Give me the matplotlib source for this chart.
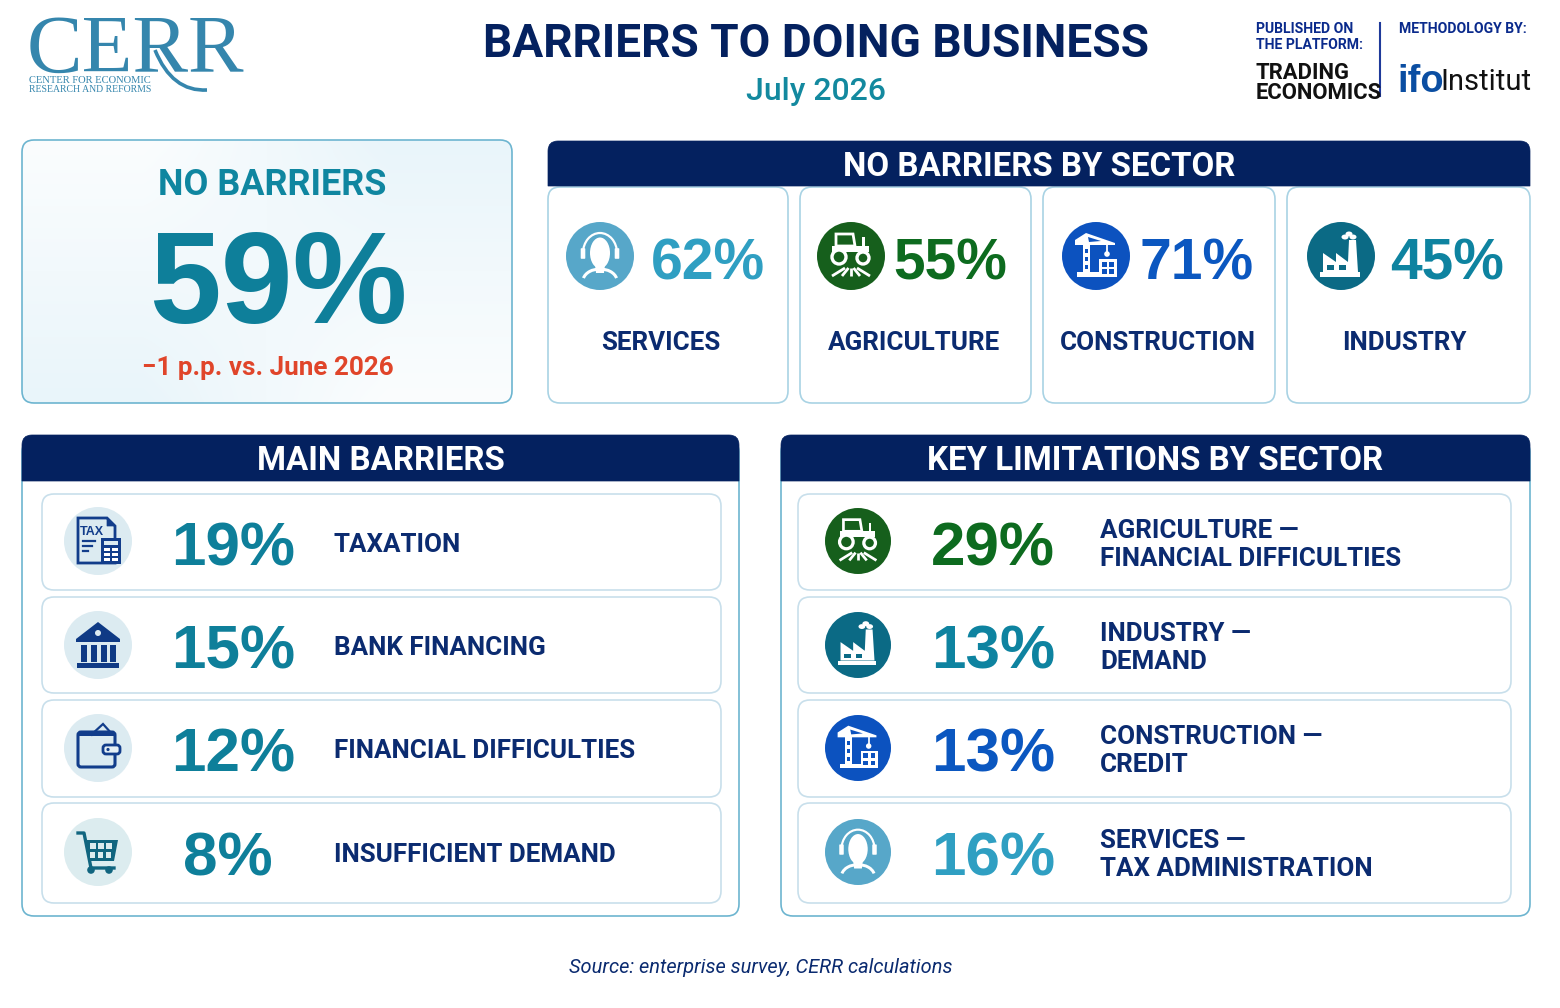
import numpy as np
import matplotlib
matplotlib.use("Agg")
import matplotlib.pyplot as plt
from matplotlib.patches import Circle, Rectangle, Polygon, Arc, Ellipse, FancyBboxPatch, PathPatch
from matplotlib.path import Path

# === Data ===
title = "BARRIERS TO DOING BUSINESS"
period = "July 2026"
headline_value = 59
headline_change = "\u22121 p.p. vs. June 2026"

sector_names = ["SERVICES", "AGRICULTURE", "CONSTRUCTION", "INDUSTRY"]
sector_values = [62, 55, 71, 45]

barrier_names = ["TAXATION", "BANK FINANCING", "FINANCIAL DIFFICULTIES", "INSUFFICIENT DEMAND"]
barrier_values = [19, 15, 12, 8]

limit_names = ["AGRICULTURE \u2014\nFINANCIAL DIFFICULTIES", "INDUSTRY \u2014\nDEMAND",
               "CONSTRUCTION \u2014\nCREDIT", "SERVICES \u2014\nTAX ADMINISTRATION"]
limit_values = [29, 13, 13, 16]

source_note = "Source: enterprise survey, CERR calculations"

# === Styles ===
NAVY = "#04215f"
LABEL = "#0b2b70"
TEAL = "#0e7f9a"
BORDER = "#a9d3e4"
ROW_BORDER = "#c8dfeb"
ICON_BG = "#dcebf1"
SECTOR_ICON = {"SERVICES": "#57a7c9", "AGRICULTURE": "#165f1c", "CONSTRUCTION": "#0c52bf", "INDUSTRY": "#0b6a85"}
SECTOR_TEXT = {"SERVICES": "#2f9fc2", "AGRICULTURE": "#0d6b1f", "CONSTRUCTION": "#0b57c0", "INDUSTRY": "#0e83a0"}

NARROW = ["Liberation Sans Narrow", "Roboto", "DejaVu Sans"]
ARIAL = ["Liberation Sans", "DejaVu Sans"]

W, H = 1560, 1008
fig = plt.figure(figsize=(W / 100, H / 100), dpi=100)
ax = fig.add_axes([0, 0, 1, 1])
ax.set_xlim(0, W)
ax.set_ylim(H, 0)
ax.axis("off")


def label(x, yc, s, px, color=LABEL, ha="center", family=NARROW, weight="bold", style="normal", z=5):
    # yc = middle of the capitals, px = font size in pixels
    ax.text(x, yc + 0.36 * px, s, fontsize=px * 0.72, color=color, ha=ha, va="baseline",
            family=family, weight=weight, style=style, zorder=z)


def card(x0, y0, x1, y1, edge=BORDER, face="white", r=12, lw=1.2, z=1):
    p = FancyBboxPatch((x0 + r, y0 + r), x1 - x0 - 2 * r, y1 - y0 - 2 * r,
                       boxstyle=f"round,pad={r},rounding_size={r}", ec=edge, fc=face, lw=lw, zorder=z)
    ax.add_patch(p)
    return p


def header(x0, y0, x1, y1, s, r=10):
    # navy bar, rounded on top only
    v = [(x0, y1), (x0, y0 + r), (x0, y0), (x0 + r, y0), (x1 - r, y0), (x1, y0), (x1, y0 + r), (x1, y1), (x0, y1)]
    c = [Path.MOVETO, Path.LINETO, Path.CURVE3, Path.CURVE3, Path.LINETO, Path.CURVE3, Path.CURVE3, Path.LINETO, Path.CLOSEPOLY]
    ax.add_patch(PathPatch(Path(v, c), fc=NAVY, ec=NAVY, lw=0.5, zorder=3))
    label((x0 + x1) / 2, (y0 + y1) / 2 + 0.5, s, 33, color="white")


# === Icons (local pixels, radius 34 circle) ===
def place(cx, cy, s):
    return lambda x, y: (cx + x * s, cy + y * s)


def icon_person(cx, cy, r, bg):
    s = r / 34
    P = place(cx, cy, s)
    ax.add_patch(Circle((cx, cy), r, fc=bg, ec="none", zorder=3))
    ax.add_patch(Arc(P(0, -3), 34 * s, 40 * s, theta1=180, theta2=360, color="white", lw=1.6 * s, zorder=4))
    for sx in (-1, 1):
        ax.add_patch(FancyBboxPatch(P(sx * 17 - 1.5, -7), 3 * s, 9 * s, boxstyle="round,pad=0.8",
                                    fc="white", ec="none", zorder=4))
    ax.add_patch(Ellipse(P(0, -3), 20 * s, 31 * s, fc="white", ec="none", zorder=4))
    ax.add_patch(Polygon([P(-5, 8), P(5, 8), P(4, 17), P(-4, 17)], fc="white", ec="none", zorder=4))
    ax.add_patch(Arc(P(0, 25), 34 * s, 24 * s, theta1=190, theta2=350, color="white", lw=2.2 * s, zorder=4))


def icon_tractor(cx, cy, r, bg):
    s = r / 34
    P = place(cx, cy, s)
    ax.add_patch(Circle((cx, cy), r, fc=bg, ec="none", zorder=3))
    ax.add_patch(Polygon([P(-15, -22), P(2, -22), P(4, -10), P(-15, -10)], fc="none", ec="white", lw=2 * s, zorder=4))
    ax.add_patch(Rectangle(P(-19, -10), 37 * s, 6 * s, fc="white", ec="none", zorder=4))
    ax.add_patch(Rectangle(P(11, -19), 2.5 * s, 10 * s, fc="white", ec="none", zorder=4))
    for x, y, rad in [(-12, 1, 7), (12, 2, 6)]:
        ax.add_patch(Circle(P(x, y), rad * s, fc=bg, ec="white", lw=2.4 * s, zorder=5))
    for top, bot in [(-6, -19), (-2.5, -9), (0, 0), (2.5, 9), (6, 19)]:
        x0, y0 = P(top, 12)
        x1, y1 = P(bot, 20)
        ax.plot([x0, x1], [y0, y1], color="white", lw=2 * s, zorder=4, solid_capstyle="butt")


def icon_crane(cx, cy, r, bg):
    s = r / 34
    P = place(cx, cy, s)
    ax.add_patch(Circle((cx, cy), r, fc=bg, ec="none", zorder=3))
    ax.add_patch(Polygon([P(-21, -16), P(-10, -23), P(19, -13), P(19, -11), P(-21, -11)], fc="white", ec="none", zorder=4))
    ax.add_patch(Polygon([P(-8, -19), P(5, -15), P(-7, -14)], fc=bg, ec="none", zorder=5))
    ax.add_patch(Rectangle(P(-13, -12), 7 * s, 29 * s, fc="white", ec="none", zorder=4))
    for y in (-7, 1, 9):
        ax.add_patch(Rectangle(P(-11, y), 3 * s, 4 * s, fc=bg, ec="none", zorder=5))
    ax.add_patch(Rectangle(P(-19, 16), 23 * s, 5 * s, fc="white", ec="none", zorder=4))
    x, y = P(11, -12)
    ax.plot([x, x], [y, y + 8 * s], color="white", lw=1.3 * s, zorder=4)
    ax.add_patch(Circle(P(11, -2), 2.8 * s, fc="white", ec="none", zorder=4))
    ax.add_patch(Rectangle(P(3, 3), 18 * s, 18 * s, fc="white", ec="none", zorder=4))
    for wx in (5.5, 13):
        for wy in (5.5, 13):
            ax.add_patch(Rectangle(P(wx, wy), 5 * s, 5 * s, fc=bg, ec="none", zorder=5))


def icon_factory(cx, cy, r, bg):
    s = r / 34
    P = place(cx, cy, s)
    ax.add_patch(Circle((cx, cy), r, fc=bg, ec="none", zorder=3))
    ax.add_patch(Polygon([P(-18, 16), P(-18, -3), P(-5, 6), P(-5, -3), P(7, 6), P(8, -16), P(15, -16), P(17, 16)],
                         fc="white", ec="none", zorder=4))
    ax.add_patch(Rectangle(P(-21, 16), 40 * s, 5 * s, fc="white", ec="none", zorder=4))
    for wx in (-14, -2):
        ax.add_patch(Rectangle(P(wx, 9), 6.5 * s, 4.5 * s, fc=bg, ec="none", zorder=5))
    for x, y, w in [(4, -19, 7), (8, -22, 7), (12, -19, 7)]:
        ax.add_patch(Ellipse(P(x, y), w * s, 5 * s, fc="white", ec="none", zorder=4))


def icon_tax(cx, cy, r):
    s = r / 34
    P = place(cx, cy, s)
    col = "#123d8b"
    ax.add_patch(Circle((cx, cy), r, fc=ICON_BG, ec="none", zorder=3))
    ax.add_patch(Polygon([P(-20, -23), P(9, -23), P(17, -15), P(17, 22), P(-20, 22)], fc="none", ec=col, lw=2 * s, zorder=4))
    ax.add_patch(Polygon([P(9, -23), P(17, -15), P(9, -15)], fc=col, ec=col, lw=0.5, zorder=4))
    x, y = P(-6, -9)
    ax.text(x, y, "TAX", fontsize=9 * s, color=col, family=ARIAL, weight="bold", ha="center", va="center", zorder=5)
    for yy, ln in [(0, 12), (5, 9), (10, 5)]:
        x0, y0 = P(-15, yy)
        ax.plot([x0, x0 + ln * s], [y0, y0], color=col, lw=1.6 * s, zorder=4)
    ax.add_patch(Rectangle(P(3, -3), 20 * s, 26 * s, fc=col, ec="none", zorder=5))
    ax.add_patch(Rectangle(P(6, 0), 14 * s, 4 * s, fc=ICON_BG, ec="none", zorder=6))
    for yy in (7, 12, 17):
        for xx in (6, 14):
            ax.add_patch(Rectangle(P(xx, yy), 6 * s, 2.6 * s, fc="white", ec="none", zorder=6))


def icon_bank(cx, cy, r):
    s = r / 34
    P = place(cx, cy, s)
    col = "#0f3a85"
    ax.add_patch(Circle((cx, cy), r, fc=ICON_BG, ec="none", zorder=3))
    ax.add_patch(Polygon([P(0, -23), P(22, -6), P(22, -3), P(-22, -3), P(-22, -6)], fc=col, ec="none", zorder=4))
    ax.add_patch(Circle(P(0, -12), 3 * s, fc=ICON_BG, ec="none", zorder=5))
    for x in (-17, -7.5, 2.5, 12):
        ax.add_patch(Rectangle(P(x, 0), 6 * s, 17 * s, fc=col, ec="none", zorder=4))
    ax.add_patch(Rectangle(P(-21, 18), 42 * s, 4.5 * s, fc=col, ec="none", zorder=4))


def icon_wallet(cx, cy, r):
    s = r / 34
    P = place(cx, cy, s)
    col = "#123d8b"
    ax.add_patch(Circle((cx, cy), r, fc=ICON_BG, ec="none", zorder=3))
    ax.add_patch(Polygon([P(-7, -13), P(5, -24), P(14, -14)], fc=ICON_BG, ec=col, lw=1.6 * s, zorder=4))
    x, y = P(-20, -16)
    ax.add_patch(FancyBboxPatch((x, y), 37 * s, 35 * s, boxstyle=f"round,pad=0,rounding_size={3 * s}",
                                fc="none", ec=col, lw=2.2 * s, zorder=4))
    ax.add_patch(Rectangle(P(-20, -16), 37 * s, 4 * s, fc=col, ec="none", zorder=4))
    x, y = P(5, -3)
    ax.add_patch(FancyBboxPatch((x, y), 17 * s, 9 * s, boxstyle=f"round,pad=0,rounding_size={3 * s}",
                                fc="#e6f0f5", ec=col, lw=2 * s, zorder=5))
    ax.add_patch(Circle(P(10, 1.5), 1.6 * s, fc=col, ec="none", zorder=6))


def icon_cart(cx, cy, r):
    s = r / 34
    P = place(cx, cy, s)
    col = "#11657f"
    ax.add_patch(Circle((cx, cy), r, fc="#dcecef", ec="none", zorder=3))
    xy = np.array([P(-20, -19), P(-14, -19), P(-7, 16), P(16, 16)])
    ax.plot(xy[:, 0], xy[:, 1], color=col, lw=2.4 * s, zorder=4, solid_joinstyle="round")
    ax.add_patch(Polygon([P(-13, -12), P(20, -12), P(16, 9), P(-9, 9)], fc=col, ec="none", zorder=4))
    for row, yy in enumerate((-9, 0)):
        for xx in (-8, 0, 8):
            ax.add_patch(Rectangle(P(xx - row * 0.5, yy), 5.5 * s, 6 * s, fc="#dcecef", ec="none", zorder=5))
    for x in (-7, 11):
        ax.add_patch(Circle(P(x, 18), 3.8 * s, fc=col, ec="none", zorder=4))


SECTOR_DRAW = {"SERVICES": icon_person, "AGRICULTURE": icon_tractor, "CONSTRUCTION": icon_crane, "INDUSTRY": icon_factory}
BARRIER_DRAW = [icon_tax, icon_bank, icon_wallet, icon_cart]

# === Top band ===
LOGO = "#3586ad"
ax.text(27, 72, "CERR", fontsize=60, family="Liberation Serif", color=LOGO, ha="left", va="baseline", zorder=5)
ax.add_patch(PathPatch(Path([(155, 50), (172, 92), (207, 90)], [Path.MOVETO, Path.CURVE3, Path.CURVE3]),
                       fc="none", ec=LOGO, lw=2.6, zorder=5))
ax.text(29, 83, "CENTER FOR ECONOMIC", fontsize=7.6, family="Liberation Serif", color=LOGO, va="baseline", zorder=6)
ax.text(29, 92, "RESEARCH AND REFORMS", fontsize=7.0, family="Liberation Serif", color=LOGO, va="baseline", zorder=6)

label(816, 40, title, 46, color=NAVY)
label(816, 88, period, 32, color="#13899f", family=["Roboto", "DejaVu Sans"], weight="medium")

PUB = "#0a2a8c"
label(1256, 28, "PUBLISHED ON", 14, color=PUB, ha="left")
label(1256, 44, "THE PLATFORM:", 14, color=PUB, ha="left")
label(1256, 71, "TRADING", 22, color="#111111", ha="left")
label(1256, 91, "ECONOMICS", 22, color="#111111", ha="left")
ax.plot([1380, 1380], [23, 96], color="#1f3a9a", lw=1.5, zorder=4)
label(1399, 28, "METHODOLOGY BY:", 14, color=PUB, ha="left")
label(1397, 78, "ifo", 38, color="#0b4ea2", ha="left", family=ARIAL)
label(1440, 80, "Institut", 29, color="#111111", ha="left", weight="normal", family=NARROW)

# === No barriers panel ===
p = card(22, 140, 512, 403, edge="#6db5d0", face="none", z=2)
grad = np.linspace(0, 1, 256).reshape(-1, 1)
grad = np.hstack([grad, grad[::-1]])
im = ax.imshow(grad, extent=(22, 512, 403, 140), cmap=matplotlib.colors.LinearSegmentedColormap.from_list("p", ["#fbfdfe", "#e9f5fa"]),
               aspect="auto", interpolation="bilinear", zorder=1)
im.set_clip_path(p)
ax.set_xlim(0, W)
ax.set_ylim(H, 0)
label(272, 182, "NO BARRIERS", 36, color="#0f86a0")
label(278, 277, f"{headline_value}%", 129, color=TEAL, family=ARIAL)
label(268, 366, headline_change, 26, color="#e0452a", family=["Roboto", "DejaVu Sans"])

# === No barriers by sector ===
header(548, 141, 1530, 186, "NO BARRIERS BY SECTOR")
card_x = [(548, 788), (800, 1031), (1043, 1275), (1287, 1530)]
icon_x = [600, 851, 1096, 1341]
pct_x = [708, 950, 1197, 1447]
name_x = [661, 914, 1158, 1404]
for i, name in enumerate(sector_names):
    card(card_x[i][0], 187, card_x[i][1], 403)
    SECTOR_DRAW[name](icon_x[i], 256, 34, SECTOR_ICON[name])
    label(pct_x[i], 259, f"{sector_values[i]}%", 57, color=SECTOR_TEXT[name], family=ARIAL)
    label(name_x[i], 341, name, 26)

# === Main barriers ===
card(22, 440, 739, 916, edge="#6db5d0", z=1)
header(22, 435, 739, 481, "MAIN BARRIERS")
row_top = [494, 597, 700, 803]
row_bot = [590, 693, 797, 903]
row_yc = [543, 646, 749, 853]
icon_yc = [541, 645, 748, 852]
for i, name in enumerate(barrier_names):
    card(42, row_top[i], 721, row_bot[i], edge=ROW_BORDER)
    BARRIER_DRAW[i](98, icon_yc[i], 34)
    label(233 if barrier_values[i] > 9 else 228, row_yc[i], f"{barrier_values[i]}%", 62, color=TEAL, family=ARIAL)
    label(334, row_yc[i], name, 26, ha="left")

# === Key limitations by sector ===
card(781, 440, 1530, 916, edge="#6db5d0", z=1)
header(781, 435, 1530, 481, "KEY LIMITATIONS BY SECTOR")
limit_sector = ["AGRICULTURE", "INDUSTRY", "CONSTRUCTION", "SERVICES"]
for i, name in enumerate(limit_names):
    sector = limit_sector[i]
    card(798, row_top[i], 1511, row_bot[i], edge=ROW_BORDER)
    SECTOR_DRAW[sector](858, icon_yc[i], 33, SECTOR_ICON[sector])
    label(993, row_yc[i], f"{limit_values[i]}%", 62, color=SECTOR_TEXT[sector], family=ARIAL)
    for j, line in enumerate(name.split("\n")):
        label(1100, row_yc[i] - 14 + j * 28, line, 26, ha="left")

# === Footer ===
label(761, 966, source_note, 20, color=LABEL, family=["Roboto", "DejaVu Sans"], weight="normal", style="italic")

fig.savefig("out.png", dpi=100, facecolor="white")
